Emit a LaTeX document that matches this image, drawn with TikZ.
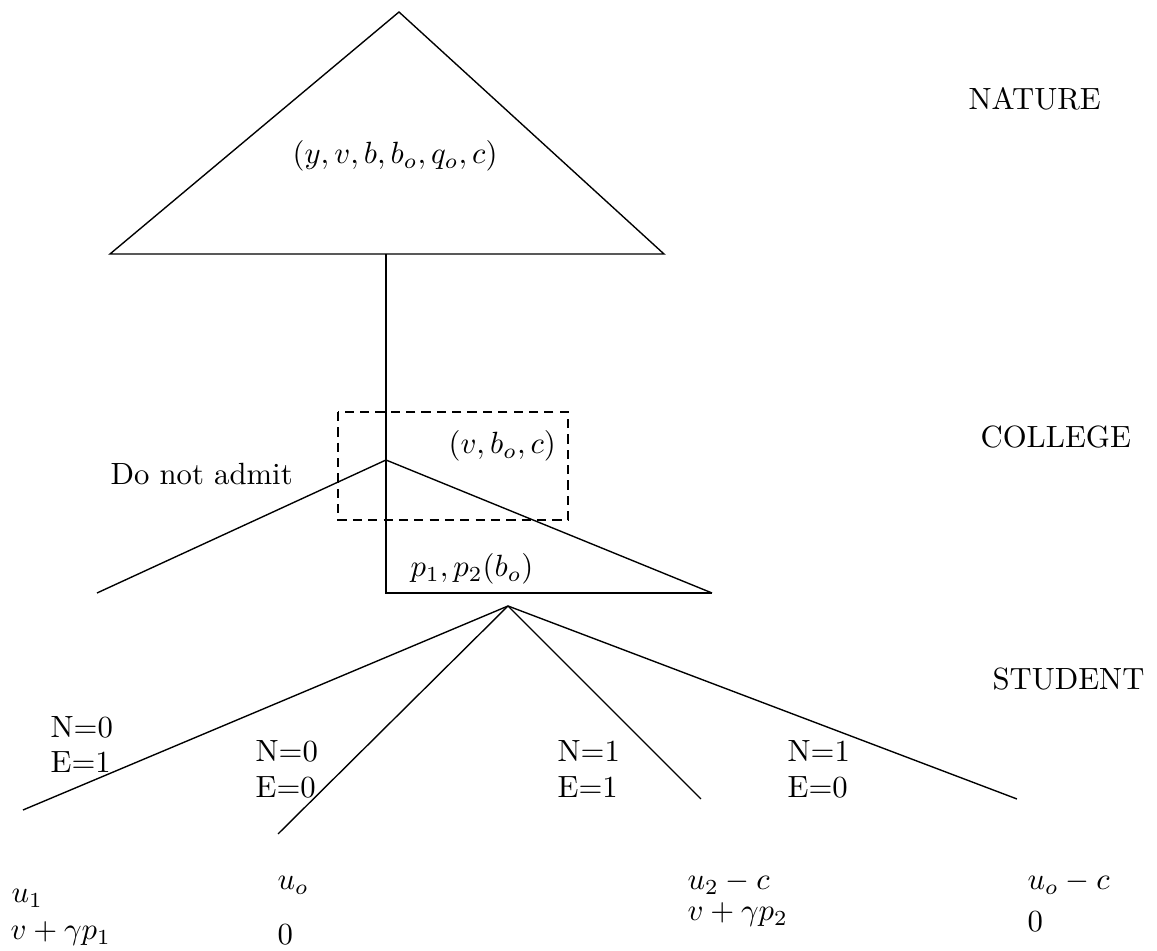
\documentclass[tikz,border=0pt]{standalone}
\begin{document}
\begin{tikzpicture}[x=0.3257pt,y=-0.3257pt,
  edge/.style={line width=0.45pt},
  box/.style={line width=0.45pt,dashed,dash pattern=on 3pt off 2pt},
  lbl/.style={inner sep=0pt,anchor=base west}]
\useasboundingbox (0,0) rectangle (1157,951);
% Nature triangle
\coordinate (ntop) at (399,12);
\coordinate (nbl) at (110,254);
\coordinate (nbr) at (664,254);
\coordinate (nbase) at (386,254);
\draw[edge] (ntop) -- (nbl) -- (nbr) -- cycle;
% college node
\coordinate (col) at (386,460);
\coordinate (colL) at (97,593);
\coordinate (colR) at (712,593);
\coordinate (colB) at (386,593);
\draw[edge] (nbase) -- (col);
\draw[edge] (col) -- (colL);
\draw[edge] (col) -- (colR);
\draw[edge] (col) -- (colB) -- (colR);
\draw[box] (338,412) rectangle (568,520);
% student node
\coordinate (stu) at (508,606);
\coordinate (s1) at (23,810);
\coordinate (s2) at (278,834);
\coordinate (s3) at (701,799);
\coordinate (s4) at (1017,799);
\draw[edge] (stu) -- (s1);
\draw[edge] (stu) -- (s2);
\draw[edge] (stu) -- (s3);
\draw[edge] (stu) -- (s4);
% labels
\node[lbl] (tnat) at (292,164) {$(y,v,b,b_o,q_o,c)$};
\node[lbl] (nature) at (968,110) {NATURE};
\node[lbl] (college) at (980,448) {COLLEGE};
\node[lbl] (student) at (992,690) {STUDENT};
\node[lbl] (dna) at (110,485) {Do not admit};
\node[lbl] (tcol) at (448,454) {$(v,b_o,c)$};
\node[lbl] (tp) at (410,577) {$p_1,p_2(b_o)$};
\node[lbl] (a1) at (50,738) {N=0};
\node[lbl] (b1) at (50,773) {E=1};
\node[lbl] (a2) at (255,762) {N=0};
\node[lbl] (b2) at (255,798) {E=0};
\node[lbl] (a3) at (557,762) {N=1};
\node[lbl] (b3) at (557,798) {E=1};
\node[lbl] (a4) at (787,762) {N=1};
\node[lbl] (b4) at (787,798) {E=0};
\node[lbl] (p1a) at (11,903) {$u_1$};
\node[lbl] (p1b) at (10,940) {$v+\gamma p_1$};
\node[lbl] (p2a) at (277,890) {$u_o$};
\node[lbl] (p2b) at (277,945) {$0$};
\node[lbl] (p3a) at (687,890) {$u_2-c$};
\node[lbl] (p3b) at (687,921) {$v+\gamma p_2$};
\node[lbl] (p4a) at (1027,890) {$u_o-c$};
\node[lbl] (p4b) at (1027,932) {$0$};
\end{tikzpicture}
\end{document}
